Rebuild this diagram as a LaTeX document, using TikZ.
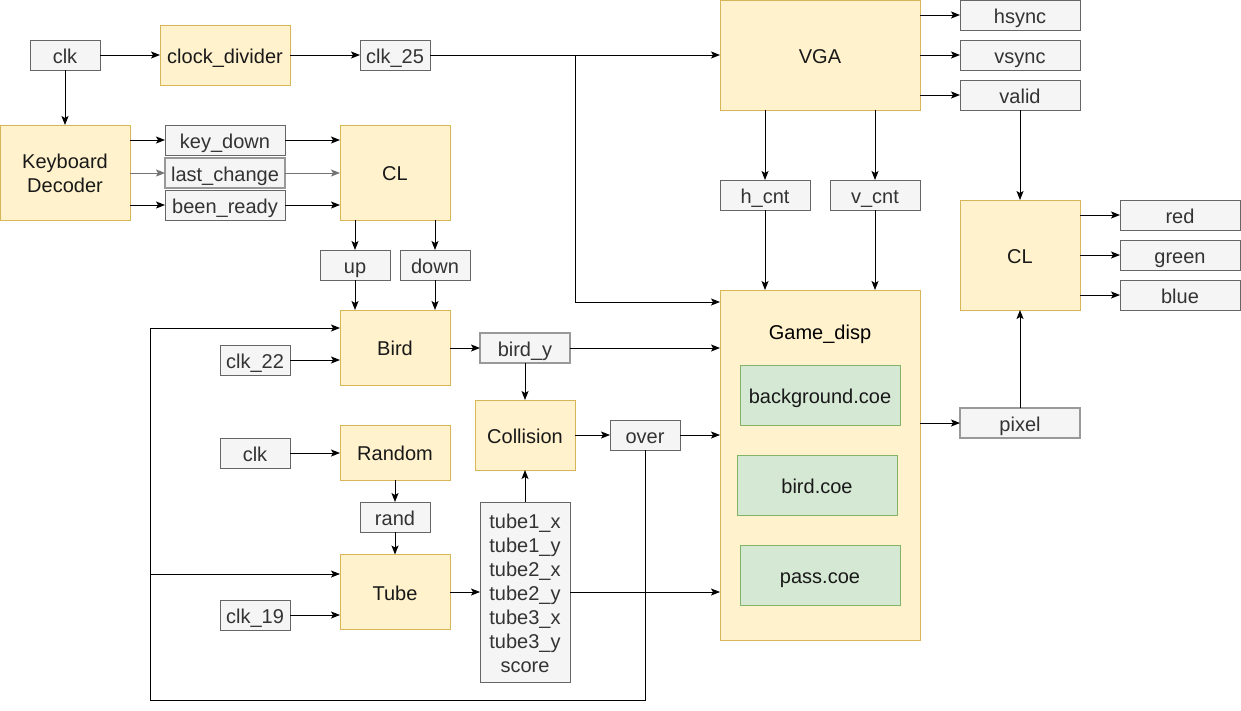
\documentclass[tikz,border=0pt]{standalone}
\usepackage{fontspec}
\setmainfont{Liberation Sans}
\usetikzlibrary{arrows.meta}
\definecolor{yfill}{HTML}{FFF2CC}
\definecolor{ydraw}{HTML}{D6B656}
\definecolor{gfill}{HTML}{F5F5F5}
\definecolor{gdraw}{HTML}{666666}
\definecolor{gtext}{HTML}{333333}
\definecolor{gnfill}{HTML}{D5E8D4}
\definecolor{gndraw}{HTML}{82B366}
\begin{document}
\begin{tikzpicture}[x=1pt,y=-1pt,
  every node/.style={inner sep=0pt,outer sep=0pt,font=\fontsize{20}{24}\selectfont,align=center,text height=20.3pt,text depth=3.7pt},
  ybox/.style={draw=ydraw,fill=yfill,line width=1pt,text=black!90},
  gbox/.style={draw=gdraw,fill=gfill,line width=1pt,text=gtext},
  lbox/.style={draw=black!40,fill=gfill,line width=1.2pt,text=gtext},
  cbox/.style={draw=gndraw,fill=gnfill,line width=1pt,text=black!90,minimum width=160,minimum height=60},
  arr/.style={draw=black,line width=1pt,-{Stealth[length=9pt,width=7pt,inset=2pt]}},
  wh/.style 2 args={minimum width=#1,minimum height=#2}]
\useasboundingbox[fill=white] (0,0) rectangle (1241,710);
% nodes
\node[gbox,wh={70}{30}] (clk1) at (65,55) {clk};
\node[ybox,wh={130}{60}] (cdiv) at (225,55) {clock\_divider};
\node[gbox,wh={70}{30}] (clk25) at (395,55) {clk\_25};
\node[ybox,wh={200}{110}] (vga) at (820,55) {VGA};
\node[gbox,wh={120}{30}] (hsync) at (1020,15) {hsync};
\node[gbox,wh={120}{30}] (vsync) at (1020,55) {vsync};
\node[gbox,wh={120}{30}] (valid) at (1020,95) {valid};
\node[gbox,wh={90}{30}] (hcnt) at (765,195) {h\_cnt};
\node[gbox,wh={90}{30}] (vcnt) at (875,195) {v\_cnt};
\node[ybox,wh={130}{95},text height=44.3pt] (kd) at (65,172.5) {Keyboard\\Decoder};
\node[gbox,wh={120}{30}] (keydown) at (225,140) {key\_down};
\node[lbox,wh={120}{30}] (lastch) at (225,173) {last\_change};
\node[gbox,wh={120}{30}] (beenr) at (225,205) {been\_ready};
\node[ybox,wh={110}{95}] (cla) at (395,172.5) {CL};
\node[gbox,wh={70}{30}] (up) at (355,265) {up};
\node[gbox,wh={70}{30}] (down) at (435,265) {down};
\node[ybox,wh={110}{75}] (bird) at (395,347.5) {Bird};
\node[lbox,wh={90}{30}] (birdy) at (525,348) {bird\_y};
\node[ybox,wh={100}{70}] (coll) at (525,435) {Collision};
\node[gbox,wh={70}{30}] (over) at (645,435) {over};
\node[gbox,wh={90}{180},text height=164.3pt] (tubes) at (525,592) {tube1\_x\\tube1\_y\\tube2\_x\\tube2\_y\\tube3\_x\\tube3\_y\\score};
\node[ybox,wh={110}{75}] (tube) at (395,592) {Tube};
\node[gbox,wh={70}{30}] (clkn) at (255,615) {clk\_19};
\node[gbox,wh={70}{30}] (clkb) at (255,360) {clk\_22};
\node[gbox,wh={70}{30}] (clkr) at (255,453) {clk};
\node[ybox,wh={110}{55}] (random) at (395,452.5) {Random};
\node[gbox,wh={70}{30}] (rand) at (395,517) {rand};
\node[ybox,wh={200}{350}] (game) at (820,465) {};
\node (gamelbl) at (820,331) {Game\_disp};
\node[cbox] (bgcoe) at (820,395) {background.coe};
\node[cbox] (birdcoe) at (817,485) {bird.coe};
\node[cbox] (passcoe) at (820,575) {pass.coe};
\node[lbox,wh={120}{30}] (pixel) at (1020,423) {pixel};
\node[ybox,wh={120}{110}] (clb) at (1020,255) {CL};
\node[gbox,wh={120}{30}] (red) at (1180,215) {red};
\node[gbox,wh={120}{30}] (green) at (1180,255) {green};
\node[gbox,wh={120}{30}] (blue) at (1180,295) {blue};
% coordinates
\coordinate (br) at (575,55);
\coordinate (gin) at (720,302);
\coordinate (loopBL) at (150,700);
\coordinate (loopTL) at (150,328);
\coordinate (loopT) at (150,574);
% connectors
\draw[arr] (clk1) -- (cdiv);
\draw[arr] (cdiv) -- (clk25);
\draw[arr] (clk25) -- (vga.west |- clk25);
\draw[arr] (br) |- (gin);
\draw[arr] (clk1) -- (kd);
\draw[arr] (vga.east |- hsync) -- (hsync.west);
\draw[arr] (vga.east |- vsync) -- (vsync.west);
\draw[arr] (vga.east |- valid) -- (valid.west);
\draw[arr] (vga.south -| hcnt) -- (hcnt.north);
\draw[arr] (vga.south -| vcnt) -- (vcnt.north);
\draw[arr] (hcnt.south) -- (hcnt |- game.north);
\draw[arr] (vcnt.south) -- (vcnt |- game.north);
\draw[arr] (kd.east |- keydown) -- (keydown.west);
\draw[arr,draw=black!55] (kd.east |- lastch) -- (lastch.west);
\draw[arr] (kd.east |- beenr) -- (beenr.west);
\draw[arr] (keydown.east) -- (cla.west |- keydown);
\draw[arr,draw=black!55] (lastch.east) -- (cla.west |- lastch);
\draw[arr] (beenr.east) -- (cla.west |- beenr);
\draw[arr] (cla.south -| up) -- (up.north);
\draw[arr] (cla.south -| down) -- (down.north);
\draw[arr] (up.south) -- (bird.north -| up);
\draw[arr] (down.south) -- (bird.north -| down);
\draw[arr] (bird.east |- birdy) -- (birdy.west);
\draw[arr] (birdy.east) -- (game.west |- birdy);
\draw[arr] (birdy.south) -- (coll.north);
\draw[arr] (coll.east |- over) -- (over.west);
\draw[arr] (over.east) -- (game.west |- over);
\draw[arr] (tubes.north) -- (coll.south);
\draw[arr] (tube.east) -- (tubes.west |- tube);
\draw[arr] (tubes.east) -- (game.west |- tubes);
\draw[arr] (clkn.east) -- (tube.west |- clkn);
\draw[arr] (clkb.east) -- (bird.west |- clkb);
\draw[arr] (clkr.east) -- (random.west |- clkr);
\draw[arr] (random.south) -- (rand.north);
\draw[arr] (rand.south) -- (tube.north);
\draw[arr] (over.south) |- (loopBL) -- (loopTL) -- (bird.west |- loopTL);
\draw[arr] (loopT) -- (tube.west |- loopT);
\draw[arr] (game.east |- pixel) -- (pixel.west);
\draw[arr] (pixel.north) -- (clb.south);
\draw[arr] (valid.south) -- (clb.north);
\draw[arr] (clb.east |- red) -- (red.west);
\draw[arr] (clb.east |- green) -- (green.west);
\draw[arr] (clb.east |- blue) -- (blue.west);
\end{tikzpicture}
\end{document}
